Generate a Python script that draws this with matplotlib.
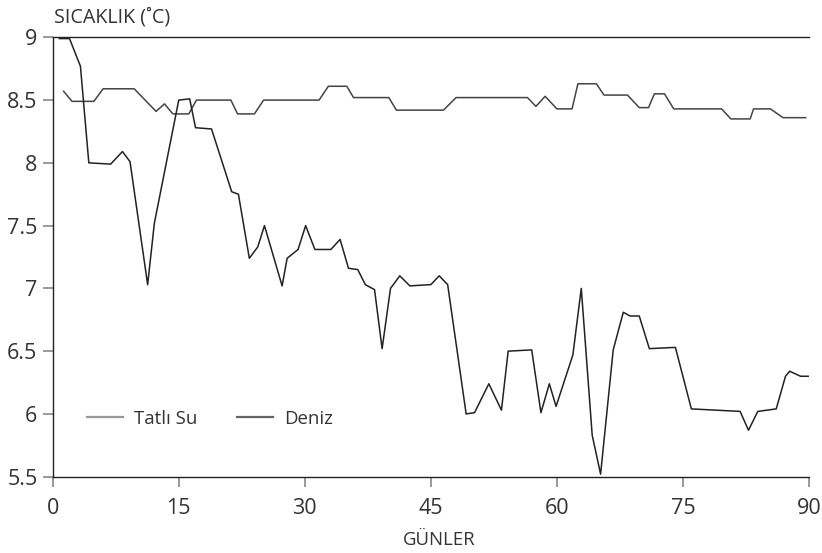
"""Daily water temperature, fresh water vs sea (Tatlı Su / Deniz)."""
import matplotlib.pyplot as plt
from matplotlib.lines import Line2D

plt.rcParams.update({"font.family": ["Open Sans", "DejaVu Sans"], "font.size": 13})

# --- values ---
TATLI_GUN = [1.3, 2.3, 4.9, 6.0, 9.7, 12.3, 13.3, 14.3, 16.2, 17.1, 21.2, 22.0, 24.0, 25.1,
             31.7, 32.8, 35.0, 35.8, 40.0, 40.9, 46.5, 48.0, 56.5, 57.5, 58.6, 60.0, 61.8,
             62.5, 64.7, 65.6, 68.4, 69.8, 70.9, 71.6, 72.8, 73.9, 79.6, 80.7, 83.0, 83.4,
             85.4, 86.9, 89.6]
TATLI_SU = [8.57, 8.49, 8.49, 8.59, 8.59, 8.41, 8.47, 8.39, 8.39, 8.50, 8.50, 8.39, 8.39, 8.50,
            8.50, 8.61, 8.61, 8.52, 8.52, 8.42, 8.42, 8.52, 8.52, 8.45, 8.53, 8.43, 8.43,
            8.63, 8.63, 8.54, 8.54, 8.44, 8.44, 8.55, 8.55, 8.43, 8.43, 8.35, 8.35, 8.43,
            8.43, 8.36, 8.36]

DENIZ_GUN = [0.8, 2.0, 3.3, 4.3, 6.9, 8.3, 9.2, 11.3, 12.1, 15.0, 16.3, 17.0, 18.9, 21.3,
             22.1, 23.4, 24.4, 25.2, 27.3, 27.9, 29.2, 30.1, 31.2, 33.1, 34.2, 35.2, 36.3,
             37.2, 38.3, 39.2, 40.2, 41.3, 42.5, 45.0, 46.0, 47.0, 49.2, 50.2, 51.9, 53.4,
             54.2, 57.0, 58.1, 59.1, 59.9, 61.9, 62.9, 64.2, 65.2, 66.7, 67.9, 68.7, 69.8,
             71.0, 74.1, 76.0, 81.8, 82.8, 83.9, 86.1, 87.2, 87.7, 89.0, 89.9]
DENIZ = [8.99, 8.99, 8.77, 8.00, 7.99, 8.09, 8.01, 7.03, 7.52, 8.50, 8.51, 8.28, 8.27, 7.77,
         7.75, 7.24, 7.33, 7.50, 7.02, 7.24, 7.31, 7.50, 7.31, 7.31, 7.39, 7.16, 7.15,
         7.03, 6.99, 6.52, 7.00, 7.10, 7.02, 7.03, 7.10, 7.03, 6.00, 6.01, 6.24, 6.03,
         6.50, 6.51, 6.01, 6.24, 6.06, 6.47, 7.00, 5.83, 5.52, 6.51, 6.81, 6.78, 6.78,
         6.52, 6.53, 6.04, 6.02, 5.87, 6.02, 6.04, 6.30, 6.34, 6.30, 6.30]

X_TICKS = [0, 15, 30, 45, 60, 75, 90]
Y_TICKS = [5.5, 6, 6.5, 7, 7.5, 8, 8.5, 9]
Y_LABELS = ["5.5", "6", "6.5", "7", "7.5", "8", "8.5", "9"]

TXT = "#333333"

fig = plt.figure(figsize=(8.22, 5.53), dpi=100)
ax = fig.add_axes([0.0641, 0.1380, 0.9201, 0.7945])

ax.plot(TATLI_GUN, TATLI_SU, color="#444444", lw=1.1)
ax.plot(DENIZ_GUN, DENIZ, color="#222222", lw=1.1)

ax.set_xlim(0, 90); ax.set_ylim(5.5, 9)
ax.set_xticks(X_TICKS)
ax.set_yticks(Y_TICKS); ax.set_yticklabels(Y_LABELS)
ax.tick_params(direction="out", length=7.5, width=1.2, color="#888888",
               labelcolor=TXT, labelsize=15.5)
ax.tick_params(axis="x", pad=8)
ax.tick_params(axis="y", pad=3.5)
ax.spines["right"].set_visible(False)
for s in ("left", "bottom", "top"):
    ax.spines[s].set_color("#222222"); ax.spines[s].set_linewidth(1.0)

fig.text(54 / 822, 1 - 18 / 553, "SICAKLIK (˚C)", fontsize=14.2, color=TXT,
         ha="left", va="center")
fig.text(439 / 822, 1 - 540 / 553, "GÜNLER", fontsize=13.4, color=TXT,
         ha="center", va="center")

handles = [Line2D([], [], color="#999999", lw=1.6), Line2D([], [], color="#666666", lw=1.6)]
ax.legend(handles, ["Tatlı Su", "Deniz"], ncol=2, frameon=False, fontsize=13.4,
          labelcolor=TXT, loc="center left", bbox_to_anchor=(87 / 822, 1 - 419 / 553),
          bbox_transform=fig.transFigure, borderpad=0, borderaxespad=0,
          handlelength=1.95, handletextpad=0.6, columnspacing=2.1)

fig.savefig("out.png", dpi=100)
